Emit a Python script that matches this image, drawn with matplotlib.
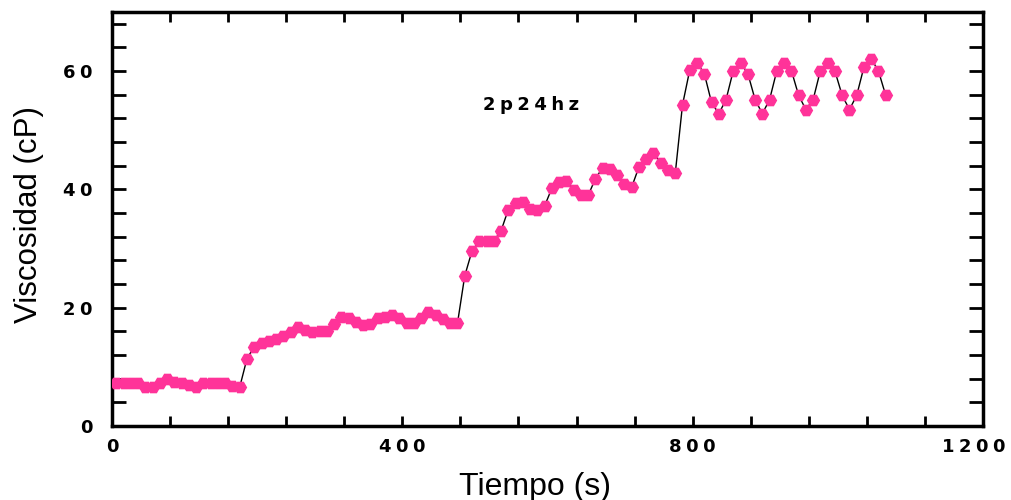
import numpy as np
import matplotlib
matplotlib.use("Agg")
import matplotlib.pyplot as plt
from matplotlib.ticker import MultipleLocator, FixedLocator, FuncFormatter
from matplotlib.transforms import ScaledTranslation

# ---- data (time in s, viscosity in cP), sampled every 10 s ----
time_s = np.arange(6, 1067, 10)
viscosity = [
    # 6 .. 176
    7.3, 7.3, 7.3, 7.3, 6.6, 6.6, 7.3, 8.0, 7.4, 7.3, 7.0, 6.6, 7.2, 7.3, 7.3, 7.3, 6.8, 6.6,
    # 186 .. 476
    11.4, 13.4, 14.1, 14.4, 14.7, 15.2, 15.9, 16.8, 16.2, 15.9, 16.0, 16.0, 17.2, 18.4, 18.2,
    17.6, 17.0, 17.2, 18.2, 18.5, 18.7, 18.2, 17.5, 17.4, 18.3, 19.2, 18.8, 18.1, 17.5, 17.4,
    # 486 .. 596
    25.4, 29.6, 31.3, 31.3, 31.3, 33.0, 36.6, 37.7, 37.9, 36.7, 36.6, 37.2,
    # 606 .. 776
    40.2, 41.3, 41.5, 39.9, 39.0, 39.0, 41.8, 43.7, 43.4, 42.4, 41.0, 40.4, 43.8, 45.1, 46.2,
    44.5, 43.3, 42.7,
    # 786 .. 1066
    54.3, 60.2, 61.4, 59.6, 54.7, 52.8, 55.2, 60.1, 61.4, 59.6, 55.2, 52.8, 55.2, 60.1, 61.4,
    60.1, 55.9, 53.5, 55.2, 60.1, 61.4, 60.0, 55.9, 53.5, 55.9, 60.7, 62.1, 60.0, 55.9,
]
x_major = [0, 400, 800, 1200]
y_major = [0, 20, 40, 60]
annotation = "2p24hz"
xlabel = "Tiempo (s)"
ylabel = "Viscosidad (cP)"

TICK_SP = "\u2005"
ANN_SP = "\u2005"
BOLD_FAM = ["DejaVu Sans"]
plt.rcParams["font.family"] = ["Liberation Sans", "DejaVu Sans"]

fig = plt.figure(figsize=(10.12, 5.0), dpi=100)
ax = fig.add_axes([112 / 1012, 74 / 500, 871 / 1012, 414 / 500])

ax.plot(time_s, viscosity, color="black", linewidth=1.0, zorder=2)
ax.plot(time_s, viscosity, linestyle="none", marker="H", markersize=8.5,
        color="#ff3399", markeredgecolor="#ff3399", zorder=3)

ax.set_xlim(0, 1200)
ax.set_ylim(0, 70)

ax.xaxis.set_major_locator(FixedLocator(x_major))
ax.xaxis.set_minor_locator(MultipleLocator(80))
ax.yaxis.set_major_locator(FixedLocator(y_major))
ax.yaxis.set_minor_locator(MultipleLocator(4))
fmt = FuncFormatter(lambda v, p: TICK_SP.join(str(int(round(v)))))
ax.xaxis.set_major_formatter(fmt)
ax.yaxis.set_major_formatter(fmt)

for s in ax.spines.values():
    s.set_linewidth(2.5)

ax.tick_params(axis="both", which="both", direction="in", top=True, right=True,
               width=2.0, labelsize=13)
ax.tick_params(axis="x", which="both", length=7)
ax.tick_params(axis="y", which="both", length=10)
ax.tick_params(axis="y", which="major", pad=14)
ax.tick_params(axis="x", which="major", pad=9)

ax.text(578, 54.3, ANN_SP.join(annotation), fontsize=13, fontweight="bold",
        family=BOLD_FAM, ha="center", va="center")

ax.set_xlabel(xlabel, fontsize=23)
ax.set_ylabel(ylabel, fontsize=22.5)
ax.xaxis.set_label_coords(0.486, -0.11)
ax.xaxis.label.set_va("top")
ax.yaxis.set_label_coords(-0.078, 0.51)

fig.canvas.draw()
for tk in ax.xaxis.get_major_ticks() + ax.yaxis.get_major_ticks():
    tk.label1.set_fontweight("bold")
    tk.label1.set_family(BOLD_FAM)
last = ax.xaxis.get_major_ticks()[len(x_major) - 1].label1
last.set_transform(last.get_transform() + ScaledTranslation(-7 / 72, 0, fig.dpi_scale_trans))

fig.savefig("out.png", dpi=100)
